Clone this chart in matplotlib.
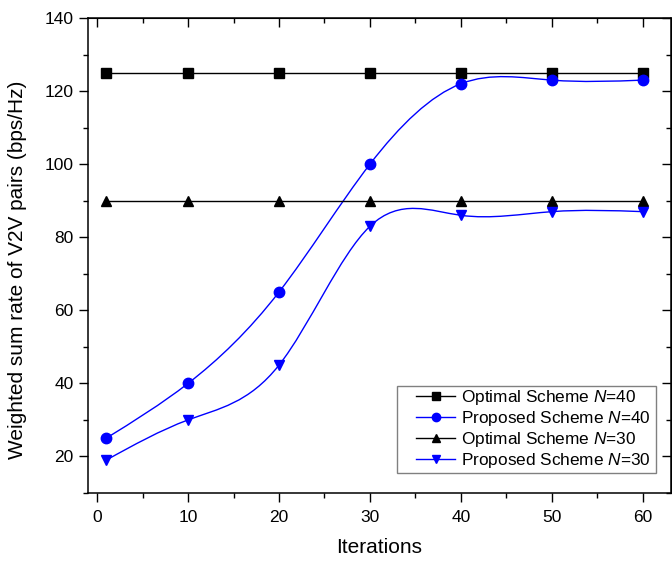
import numpy as np
import matplotlib
matplotlib.use("Agg")
import matplotlib.pyplot as plt
from matplotlib.path import Path
from matplotlib.patches import PathPatch, Rectangle
from matplotlib.lines import Line2D

plt.rcParams['font.family'] = ['Liberation Sans', 'DejaVu Sans']
plt.rcParams['mathtext.fontset'] = 'custom'
plt.rcParams['mathtext.it'] = 'Liberation Sans:italic'
plt.rcParams['mathtext.rm'] = 'Liberation Sans'

# data
iterations = [1, 10, 20, 30, 40, 50, 60]
optimal_40 = [125, 125, 125, 125, 125, 125, 125]
proposed_40 = [25, 40, 65, 100, 122, 123, 123]
optimal_30 = [90, 90, 90, 90, 90, 90, 90]
proposed_30 = [19, 30, 45, 83, 86, 87, 87]


def spline_path(x, y):
    """Natural cubic spline through the points, as bezier segments."""
    x = np.asarray(x, float)
    y = np.asarray(y, float)
    n = len(x)
    h = np.diff(x)
    A = np.zeros((n, n))
    b = np.zeros(n)
    A[0, 0] = A[-1, -1] = 1
    for i in range(1, n - 1):
        A[i, i - 1] = h[i - 1]
        A[i, i] = 2 * (h[i - 1] + h[i])
        A[i, i + 1] = h[i]
        b[i] = 3 * ((y[i + 1] - y[i]) / h[i] - (y[i] - y[i - 1]) / h[i - 1])
    c = np.linalg.solve(A, b)
    d = np.zeros(n)
    for i in range(n - 1):
        d[i] = (y[i + 1] - y[i]) / h[i] - h[i] * (2 * c[i] + c[i + 1]) / 3
    d[-1] = d[-2] + 2 * c[-2] * h[-1] + (c[-1] - c[-2]) * h[-1]
    verts = [(x[0], y[0])]
    codes = [Path.MOVETO]
    for i in range(n - 1):
        verts += [(x[i] + h[i] / 3, y[i] + d[i] * h[i] / 3),
                  (x[i + 1] - h[i] / 3, y[i + 1] - d[i + 1] * h[i] / 3),
                  (x[i + 1], y[i + 1])]
        codes += [Path.CURVE4] * 3
    return Path(verts, codes)


fig = plt.figure(figsize=(6.72, 5.61), dpi=100)
ax = fig.add_axes([88 / 672, 68 / 561, 583 / 672, 475 / 561])

series = [
    (optimal_40, 'black', 's', False, r'Optimal Scheme $N$=40'),
    (proposed_40, 'blue', 'o', True, r'Proposed Scheme $N$=40'),
    (optimal_30, 'black', '^', False, r'Optimal Scheme $N$=30'),
    (proposed_30, 'blue', 'v', True, r'Proposed Scheme $N$=30'),
]
handles = []
for vals, col, mk, smooth, lab in series:
    if smooth:
        ax.add_patch(PathPatch(spline_path(iterations, vals), fill=False,
                               edgecolor=col, lw=1.0))
        ax.plot(iterations, vals, ls='none', marker=mk, color=col, ms=7.5)
    else:
        ax.plot(iterations, vals, color=col, lw=1.0, marker=mk, ms=7.5)
    handles.append(Line2D([], [], color=col, lw=1.0, marker=mk, ms=6, label=lab))

ax.set_xlim(-1, 63.1)
ax.set_ylim(10, 140)
ax.set_xticks(range(0, 61, 10))
ax.set_xticks(range(5, 61, 10), minor=True)
ax.set_yticks(range(20, 141, 20))
ax.set_yticks(range(10, 141, 20), minor=True)
ax.tick_params(which='both', direction='out', labelsize=12.5, width=1.0, pad=4)
ax.tick_params(axis='x', which='both', pad=6)
ax.tick_params(which='major', length=6.5)
ax.tick_params(which='minor', length=3.5)
for s in ax.spines.values():
    s.set_linewidth(1.1)

# mirrored inward ticks on top and right
top = ax.secondary_xaxis('top')
top.set_xticks(range(0, 61, 10))
top.set_xticks(range(5, 61, 10), minor=True)
top.tick_params(which='both', direction='in', labeltop=False, width=1.0)
top.tick_params(which='major', length=6.5)
top.tick_params(which='minor', length=3.5)
right = ax.secondary_yaxis('right')
right.set_yticks(range(20, 141, 20))
right.set_yticks(range(10, 141, 20), minor=True)
right.tick_params(which='both', direction='in', labelright=False, width=1.0)
right.tick_params(which='major', length=6.5)
right.tick_params(which='minor', length=3.5)

ax.set_xlabel('Iterations', fontsize=15)
ax.xaxis.set_label_coords(0.5, -0.094)
ax.set_ylabel('Weighted sum rate of V2V pairs (bps/Hz)', fontsize=15)
ax.yaxis.set_label_coords(-0.105, 0.47)

leg = ax.legend(handles=handles, loc='lower right', fontsize=12.4, frameon=False,
                handlelength=2.3, handletextpad=0.3, borderpad=0.15,
                labelspacing=0.12, borderaxespad=0,
                bbox_to_anchor=(0.969, 0.042))

# legend frame with wider left margin, drawn around the legend box
fig.canvas.draw()
bb = leg.get_window_extent().transformed(fig.transFigure.inverted())
padl, padr = 16 / 672, 3 / 672
fig.add_artist(Rectangle((bb.x0 - padl, bb.y0), bb.width + padl + padr, bb.height,
                         transform=fig.transFigure, fill=False,
                         edgecolor='#808080', lw=1.0))

fig.savefig('out.png', dpi=100)
